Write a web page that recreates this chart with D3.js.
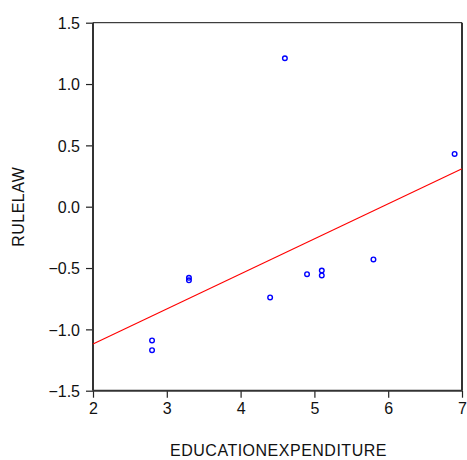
<!DOCTYPE html>
<html><head><meta charset="utf-8">
<script src="https://cdn.jsdelivr.net/npm/d3@7"></script>
<style>body{margin:0;background:#fff}</style>
</head><body>
<svg id="c" width="467" height="460"></svg>
<script>
const eduExp = [2.8, 2.8, 3.3, 3.3, 4.6, 6.9, 4.4, 4.9, 5.1, 5.1, 5.8];
const ruleLaw = [-1.09, -1.17, -0.58, -0.60, 1.21, 0.43, -0.74, -0.55, -0.52, -0.56, -0.43];
const xTicks = [2, 3, 4, 5, 6, 7];
const yTicks = [-1.5, -1.0, -0.5, 0.0, 0.5, 1.0, 1.5];

const svg = d3.select("#c");
const L = 93, R = 462, T = 22.7, B = 390.7;
const x = d3.scaleLinear().domain([2, 7]).range([L, R]);
const y = d3.scaleLinear().domain([-1.5, 1.5]).range([B, T]);
const font = "Liberation Sans, Arial, sans-serif";

// regression
const n = eduExp.length;
const mx = d3.mean(eduExp), my = d3.mean(ruleLaw);
let sxy = 0, sxx = 0;
for (let i = 0; i < n; i++) { sxy += (eduExp[i]-mx)*(ruleLaw[i]-my); sxx += (eduExp[i]-mx)**2; }
const b = sxy/sxx, a = my - b*mx;

const xAxis = d3.axisBottom(x).tickValues(xTicks).tickSize(7).tickPadding(5).tickFormat(d3.format("d"));
const yAxis = d3.axisLeft(y).tickValues(yTicks).tickSize(7).tickPadding(6).tickFormat(d3.format(".1f"));

const gx = svg.append("g").attr("transform", `translate(0,${B})`).call(xAxis);
const gy = svg.append("g").attr("transform", `translate(${L},0)`).call(yAxis);
[gx, gy].forEach(g => {
  g.select(".domain").remove();
  g.selectAll("line").attr("stroke", "#222").attr("stroke-width", 1.2);
  g.selectAll("text").attr("font-family", font).attr("font-size", 16).attr("fill", "#111");
});
gy.selectAll("text").attr("dy", "0.36em");

// frame
svg.append("line").attr("x1", L).attr("x2", R).attr("y1", T).attr("y2", T).attr("stroke", "#111").attr("stroke-width", 1);
svg.append("line").attr("x1", L).attr("x2", L).attr("y1", T).attr("y2", B).attr("stroke", "#333").attr("stroke-width", 2);
svg.append("line").attr("x1", R).attr("x2", R).attr("y1", T).attr("y2", B).attr("stroke", "#333").attr("stroke-width", 2);
svg.append("line").attr("x1", L).attr("x2", R).attr("y1", B).attr("y2", B).attr("stroke", "#333").attr("stroke-width", 2);

// fit line
svg.append("line")
  .attr("x1", x(2)).attr("y1", y(a + b*2))
  .attr("x2", x(7)).attr("y2", y(a + b*7))
  .attr("stroke", "#ff0000").attr("stroke-width", 1.1);

// points
svg.append("g").selectAll("circle").data(eduExp.map((v, i) => [v, ruleLaw[i]])).join("circle")
  .attr("cx", d => x(d[0])).attr("cy", d => y(d[1])).attr("r", 2.3)
  .attr("fill", "none").attr("stroke", "#0000ff").attr("stroke-width", 1.4);

// titles
svg.append("text").attr("x", (L+R)/2 + 1).attr("y", 456).attr("text-anchor", "middle")
  .attr("font-family", font).attr("font-size", 16).attr("letter-spacing", "0.5px").attr("fill", "#111").text("EDUCATIONEXPENDITURE");
svg.append("text").attr("transform", `translate(24,${(T+B)/2}) rotate(-90)`).attr("text-anchor", "middle")
  .attr("font-family", font).attr("font-size", 16).attr("letter-spacing", "0.5px").attr("fill", "#111").text("RULELAW");
</script>
</body></html>
